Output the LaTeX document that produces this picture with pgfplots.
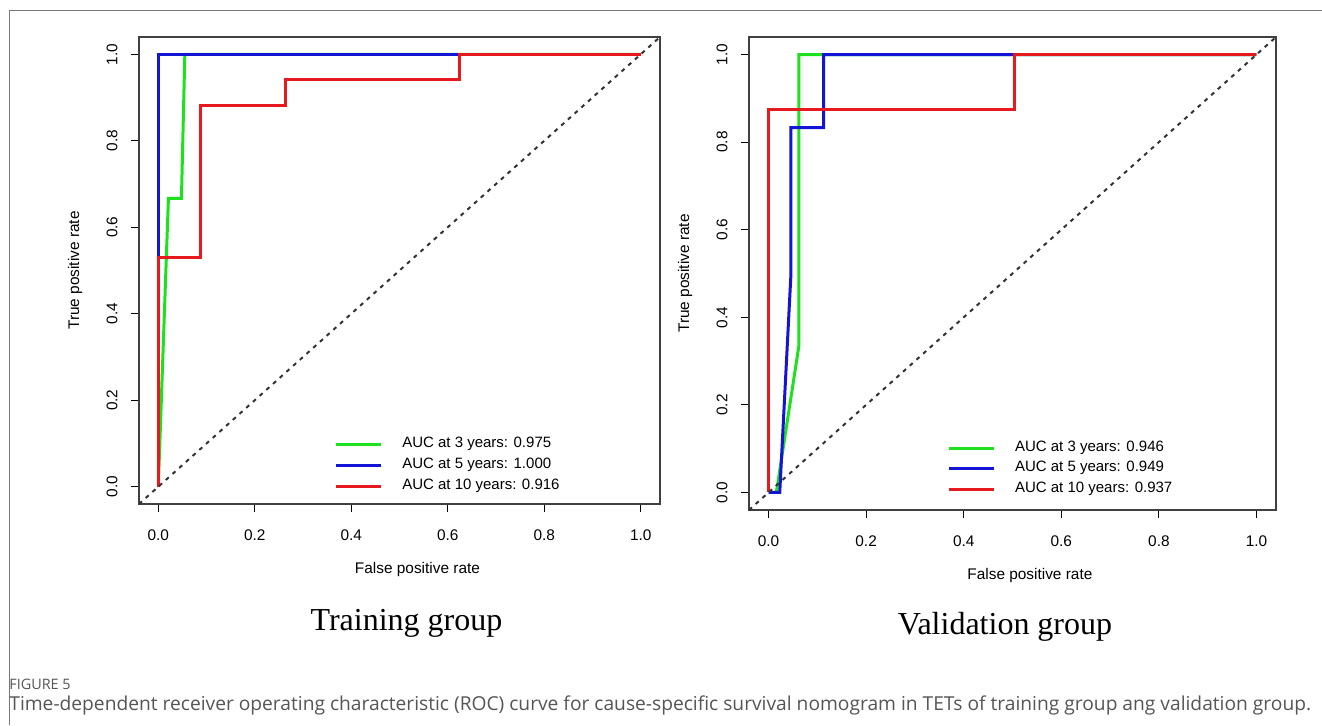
\documentclass[border=0pt]{standalone}
\usepackage{pgfplots}
\pgfplotsset{compat=1.18}
\usepackage{fontspec}
\setmainfont{Liberation Sans}
\newfontfamily\seriffont{Liberation Serif}
\newfontfamily\capfont{Open Sans}
\definecolor{rgreen}{RGB}{30,225,30}
\definecolor{rblue}{RGB}{20,20,215}
\definecolor{rred}{RGB}{230,25,30}
\definecolor{framegray}{RGB}{120,120,120}
\definecolor{capgray}{RGB}{85,85,85}

\pgfplotsset{
  rocaxis/.style={
    scale only axis,
    anchor=south west,
    xmin=-0.04, xmax=1.04, ymin=-0.04, ymax=1.04,
    xtick={0,0.2,...,1.0}, ytick={0,0.2,...,1.0},
    xtick pos=bottom, ytick pos=left,
    tick align=outside, major tick length=4pt,
    every tick/.style={black, line width=0.5pt},
    axis line style={black!75, line width=0.6pt},
    font=\fontsize{7.7}{9}\selectfont,
    /pgf/number format/.cd, fixed, fixed zerofill, precision=1, assume math mode=true,
    /pgfplots/.cd,
    yticklabel style={rotate=90, anchor=south, inner sep=0pt},
    xticklabel style={anchor=north, inner sep=0pt},
    xticklabel shift=8.5pt, yticklabel shift=6.5pt,
    xlabel={False positive rate}, ylabel={True positive rate},
    legend cell align=left,
    legend image code/.code={\draw[#1, line width=1.5pt] (0pt,0pt) -- (22.5pt,0pt);},
    legend style={draw=none, fill=none, inner sep=0pt, row sep=2.4pt,
      font=\fontsize{7.5}{9}\selectfont,
      nodes={inner sep=0pt, text height=5.5pt, text depth=2.5pt},
      /tikz/every odd column/.append style={column sep=10pt}},
  },
}

\begin{document}
\begin{tikzpicture}
\path[use as bounding box] (0pt,0pt) rectangle (661pt,362.5pt);
\draw[framegray, line width=0.6pt] (4.6pt,0pt) -- (4.6pt,357.3pt) -- (661pt,357.3pt);

% Training group
\begin{axis}[rocaxis,
  at={(69.5pt,110.5pt)}, width=260.5pt, height=233.5pt,
  xlabel style={at={(axis description cs:0.5345,-0.1413)}, anchor=center},
  ylabel style={at={(axis description cs:-0.1228,0.5)}, anchor=center},
  legend style={at={(axis description cs:0.374,0.145)}, anchor=north west},
]
\addplot[rgreen, line width=1.5pt] coordinates {(0,0) (0.021,0.667) (0.048,0.667) (0.055,1) (1,1)};
\addlegendentry{AUC at 3 years: 0.975}
\addplot[rblue, line width=1.5pt] coordinates {(0,0) (0,1) (1,1)};
\addlegendentry{AUC at 5 years: 1.000}
\addplot[rred, line width=1.5pt] coordinates {(0,0) (0,0.529) (0.0865,0.529) (0.0865,0.882) (0.263,0.882) (0.263,0.941) (0.625,0.941) (0.625,1) (1,1)};
\addlegendentry{AUC at 10 years: 0.916}
\addplot[black!80, line width=1pt, dash pattern=on 2pt off 2.5pt, forget plot] coordinates {(-0.04,-0.04) (1.04,1.04)};
\end{axis}

% Validation group
\begin{axis}[rocaxis,
  at={(374.5pt,107.5pt)}, width=263.5pt, height=236.5pt,
  xlabel style={at={(axis description cs:0.533,-0.1395)}, anchor=center},
  ylabel style={at={(axis description cs:-0.1214,0.5)}, anchor=center},
  legend style={at={(axis description cs:0.375,0.1485)}, anchor=north west},
]
\addplot[rgreen, line width=1.5pt] coordinates {(0,0) (0.016,0) (0.062,0.333) (0.062,1) (1,1)};
\addlegendentry{AUC at 3 years: 0.946}
\addplot[rblue, line width=1.5pt] coordinates {(0,0) (0.023,0) (0.046,0.5) (0.046,0.833) (0.113,0.833) (0.113,1) (1,1)};
\addlegendentry{AUC at 5 years: 0.949}
\addplot[rred, line width=1.5pt] coordinates {(0,0) (0,0.875) (0.505,0.875) (0.505,1) (1,1)};
\addlegendentry{AUC at 10 years: 0.937}
\addplot[black!80, line width=1pt, dash pattern=on 2pt off 2.5pt, forget plot] coordinates {(-0.04,-0.04) (1.04,1.04)};
\end{axis}

\node[anchor=base, font=\seriffont\fontsize{16}{18}\selectfont] at (203.25pt,47.5pt) {Training group};
\node[anchor=base, font=\seriffont\fontsize{16}{18}\selectfont] at (502.5pt,45.5pt) {Validation group};

\node[anchor=base west, inner sep=0pt, text=capgray, font=\capfont\fontsize{7.2}{8}\selectfont] at (4.5pt,18pt) {FIGURE 5};
\node[anchor=base west, inner sep=0pt, text=capgray, font=\capfont\fontsize{9.6}{11}\selectfont] at (4.5pt,7.5pt) {Time-dependent receiver operating characteristic (ROC) curve for cause-specific survival nomogram in TETs of training group ang validation group.};
\end{tikzpicture}
\end{document}
